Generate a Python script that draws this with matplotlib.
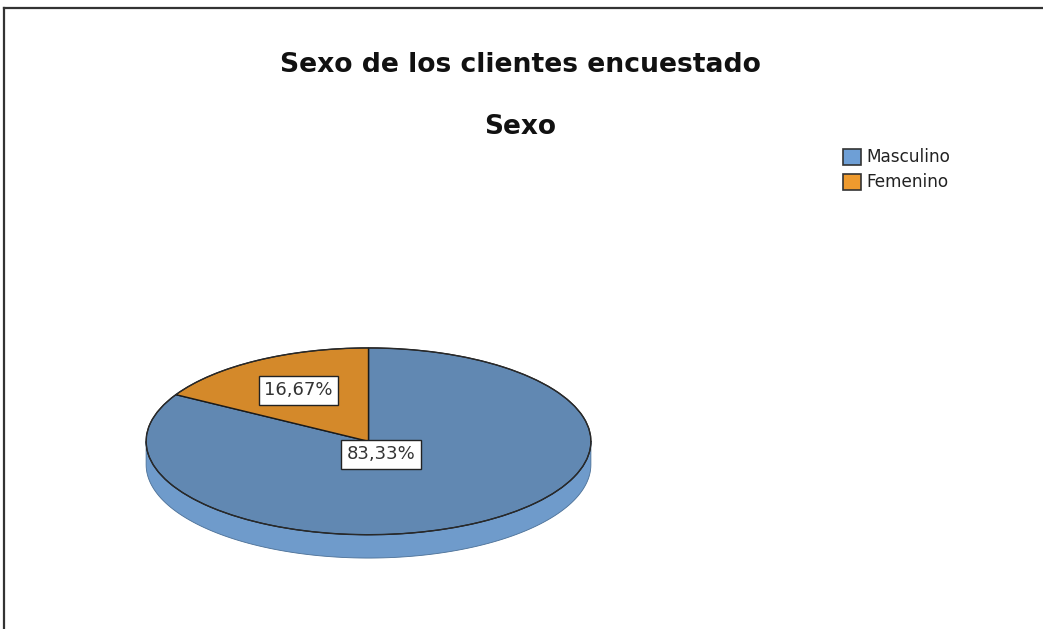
import numpy as np
import matplotlib
matplotlib.use("Agg")
import matplotlib.pyplot as plt
from matplotlib.patches import Wedge, Polygon, Rectangle
from matplotlib.lines import Line2D

plt.rcParams['font.family'] = ['DejaVu Sans']

categories = ["Masculino", "Femenino"]
percentages = [83.33, 16.67]
labels = ["83,33%", "16,67%"]
top_colors = ["#6188B2", "#D4892A"]
side_colors = ["#6F9BCB", "#C77A1E"]
legend_colors = ["#6E9FD6", "#EE9A2E"]

W, H = 1043, 629
fig = plt.figure(figsize=(W / 100, H / 100), dpi=100)

# frame lines along top and left edges
fig.add_artist(Line2D([4 / W, 1], [1 - 8 / H, 1 - 8 / H], transform=fig.transFigure,
                      color="#333333", lw=1.6))
fig.add_artist(Line2D([4 / W, 4 / W], [0, 1 - 8 / H], transform=fig.transFigure,
                      color="#333333", lw=1.6))

fig.text(520 / W, 1 - 65 / H, "Sexo de los clientes encuestado", ha="center", va="center",
         fontsize=19.2, fontweight="bold", color="#111111")
fig.text(520 / W, 1 - 127 / H, "Sexo", ha="center", va="center",
         fontsize=19, fontweight="bold", color="#111111")

# pie axes: ellipse spans x 145..592, top surface y 347..535, side down to 558
depth = 0.25
left, right, top, bottom = 145, 592, 347, 559
ax = fig.add_axes([left / W, 1 - bottom / H, (right - left) / W, (bottom - top) / H])
ax.set_xlim(-1.005, 1.005)
ax.set_ylim(-1 - depth - 0.01, 1.01)
ax.axis("off")

fracs = np.array(percentages) / sum(percentages)
start = 90.0
angles = []
for f in fracs:
    # slices run clockwise from 12 o'clock
    angles.append((start - f * 360.0, start))
    start -= f * 360.0

# side walls (visible on lower half only)
for (a0, a1), col in zip(angles, side_colors):
    for shift in (0, 360, -360):
        lo = max(a0 + shift, 180.0)
        hi = min(a1 + shift, 360.0)
        if hi > lo:
            t = np.radians(np.linspace(lo, hi, 120))
            xs, ys = np.cos(t), np.sin(t)
            pts = np.concatenate([np.column_stack([xs, ys]),
                                  np.column_stack([xs[::-1], ys[::-1] - depth])])
            ax.add_patch(Polygon(pts, closed=True, facecolor=col, edgecolor="#4A6F96",
                                 lw=0.6, zorder=1))

# top surface
for (a0, a1), col in zip(angles, top_colors):
    ax.add_patch(Wedge((0, 0), 1.0, a0, a1, facecolor=col, edgecolor="#1a1a1a",
                       lw=1.0, zorder=2))
t = np.linspace(0, 2 * np.pi, 400)
ax.plot(np.cos(t), np.sin(t), color="#2b2b2b", lw=0.8, zorder=3)

# value labels
box = dict(boxstyle="square,pad=0.3", facecolor="white", edgecolor="#222222", lw=1.0)
label_pos = [(0.055, -0.14), None]
for i, ((a0, a1), lab) in enumerate(zip(angles, labels)):
    if label_pos[i] is None:
        mid = np.radians((a0 + a1) / 2)
        pos = (0.63 * np.cos(mid), 0.63 * np.sin(mid))
    else:
        pos = label_pos[i]
    ax.text(pos[0], pos[1], lab, ha="center", va="center", fontsize=13,
            color="#333333", bbox=box, zorder=5)

# legend
for i, (cat, col) in enumerate(zip(categories, legend_colors)):
    y = 157 + i * 25
    fig.add_artist(Rectangle((843 / W, 1 - (y + 8) / H), 18 / W, 16 / H,
                             transform=fig.transFigure, facecolor=col,
                             edgecolor="#333333", lw=1.2))
    fig.text(866 / W, 1 - y / H, cat, ha="left", va="center", fontsize=12.2,
             color="#222222")

fig.savefig("out.png", dpi=100, facecolor="white")
